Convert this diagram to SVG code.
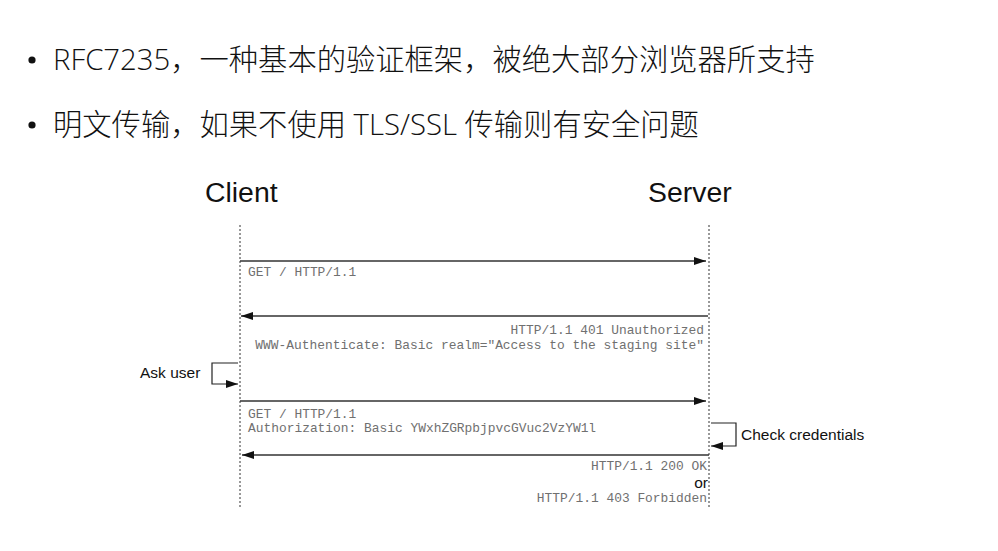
<svg xmlns="http://www.w3.org/2000/svg" width="998" height="551" viewBox="0 0 998 551">
<style>
.bullet{font-family:"Open Sans","Noto Sans CJK SC",sans-serif;font-size:29.3px;font-weight:300;fill:#111}
.actor{font-family:"Liberation Sans",Arial,sans-serif;font-size:28.4px;fill:#111}
.note{font-family:"Liberation Sans",Arial,sans-serif;font-size:15.5px;fill:#111}
.mono{font-family:"Liberation Mono","Courier New",monospace;font-size:12.9px;fill:#707070}
.life{stroke:#333;stroke-width:1;stroke-dasharray:2,2;fill:none}
.msg{stroke:#333;stroke-width:1.4;fill:none}
.loop{stroke:#222;stroke-width:1.2;fill:none}
</style>
<defs>
<marker id="ah" markerWidth="12" markerHeight="8" refX="12" refY="4" orient="auto" markerUnits="userSpaceOnUse">
<path d="M0,0 L12,4 L0,8 Z" fill="#111"/>
</marker>
</defs>
<rect width="998" height="551" fill="#fff"/>
<g id="bullets">
<circle cx="32" cy="60" r="3.6" fill="#111"/>
<text class="bullet" x="53" y="70">RFC7235，一种基本的验证框架，被绝大部分浏览器所支持</text>
<circle cx="32" cy="125" r="3.6" fill="#111"/>
<text class="bullet" x="53" y="135">明文传输，如果不使用 TLS/SSL 传输则有安全问题</text>
</g>
<g id="client">
<text class="actor" x="205" y="202">Client</text>
<line class="life" x1="240" y1="225" x2="240" y2="508"/>
</g>
<g id="server">
<text class="actor" x="648" y="202">Server</text>
<line class="life" x1="709" y1="225" x2="709" y2="508"/>
</g>
<g id="connectors">
<line class="msg" x1="240" y1="261" x2="706" y2="261" marker-end="url(#ah)"/>
<line class="msg" x1="708" y1="316" x2="241" y2="316" marker-end="url(#ah)"/>
<polyline class="loop" points="238,363 212,363 212,384 238,384" marker-end="url(#ah)"/>
<line class="msg" x1="240" y1="401" x2="706" y2="401" marker-end="url(#ah)"/>
<polyline class="loop" points="711,423 736,423 736,446 711,446" marker-end="url(#ah)"/>
<line class="msg" x1="709" y1="455" x2="242" y2="455" marker-end="url(#ah)"/>
</g>
<g id="labels">
<text class="mono" x="248" y="276">GET / HTTP/1.1</text>
<text class="mono" x="704" y="334" text-anchor="end">HTTP/1.1 401 Unauthorized</text>
<text class="mono" x="704" y="349" text-anchor="end">WWW-Authenticate: Basic realm="Access to the staging site"</text>
<text class="note" x="140" y="378">Ask user</text>
<text class="mono" x="248" y="418">GET / HTTP/1.1</text>
<text class="mono" x="248" y="432">Authorization: Basic YWxhZGRpbjpvcGVuc2VzYW1l</text>
<text class="note" x="741" y="440">Check credentials</text>
<text class="mono" x="707" y="470" text-anchor="end">HTTP/1.1 200 OK</text>
<text class="note" x="708" y="488" text-anchor="end">or</text>
<text class="mono" x="707" y="502" text-anchor="end">HTTP/1.1 403 Forbidden</text>
</g>
</svg>
